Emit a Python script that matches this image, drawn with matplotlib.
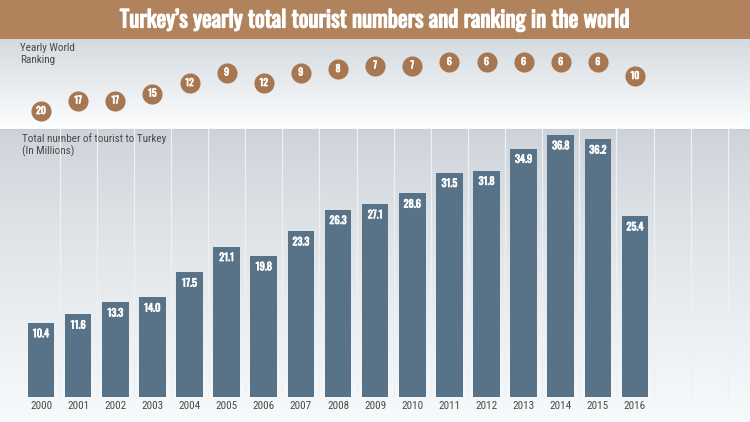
import numpy as np
import matplotlib
matplotlib.use("Agg")
from matplotlib import pyplot as plt
from matplotlib import font_manager as fm
from matplotlib import patheffects as pe

installed = set(f.name for f in fm.fontManager.ttflist)


def pick(*names):
    for n in names:
        if n in installed:
            return n
    return 'DejaVu Sans'


title_font = pick('Oswald', 'Roboto Condensed', 'Archivo Narrow', 'PT Sans Narrow')
body_font = pick('Roboto Condensed', 'Archivo Narrow', 'PT Sans Narrow', 'Open Sans Condensed')
num_font = pick('Oswald', 'Roboto Condensed', 'Archivo Narrow')
plt.rcParams['font.family'] = [body_font, 'DejaVu Sans']

years = [2000, 2001, 2002, 2003, 2004, 2005, 2006, 2007, 2008,
         2009, 2010, 2011, 2012, 2013, 2014, 2015, 2016]
tourists = [10.4, 11.6, 13.3, 14.0, 17.5, 21.1, 19.8, 23.3, 26.3,
            27.1, 28.6, 31.5, 31.8, 34.9, 36.8, 36.2, 25.4]
ranking = [20, 17, 17, 15, 12, 9, 12, 9, 8, 7, 7, 6, 6, 6, 6, 6, 10]

title = "Turkey\u2019s yearly total tourist numbers and ranking in the world"

brown = '#b0835c'
circle_col = '#a77752'
bar_col = '#587287'
text_gray = '#4a4a4a'

W, H = 750, 422
fig = plt.figure(figsize=(7.5, 4.22), dpi=100)

# background gradients
bg = fig.add_axes([0, 0, 1, 1])
bg.set_xlim(0, W)
bg.set_ylim(H, 0)
bg.axis('off')
g1 = np.linspace(0, 1, 100).reshape(-1, 1)
top_c = np.array([0.83, 0.855, 0.875])
bot_c = np.array([0.99, 0.995, 1.0])
grad = top_c + (bot_c - top_c) * g1[:, :, None]
bg.imshow(grad, extent=[0, W, 129, 38], aspect='auto')
top_c2 = np.array([0.80, 0.825, 0.85])
bot_c2 = np.array([0.97, 0.98, 0.985])
grad2 = top_c2 + (bot_c2 - top_c2) * np.linspace(0, 1, 100).reshape(-1, 1)[:, :, None] ** 0.8
bg.imshow(grad2, extent=[0, W, 422, 129], aspect='auto')
bg.axhline(129, color='#c8ced4', lw=0.8)
bg.add_patch(plt.Rectangle((0, 0), W, 39, color=brown, lw=0))
bg.text(W / 2, 20, title, color='white', fontsize=16.5, fontweight='bold',
        family=title_font, ha='center', va='center',
        path_effects=[pe.withStroke(linewidth=0.9, foreground='white')])
bg.text(20, 43, "Yearly World\nRanking", color=text_gray, fontsize=8,
        ha='left', va='top', linespacing=1.2)
bg.text(22, 133, "Total number of tourist to Turkey\n(In Millions)", color=text_gray,
        fontsize=8, ha='left', va='top', linespacing=1.2)

x0 = 2000 - 41 / 37.125
x1 = 2000 + (W - 41) / 37.125

bold = [pe.withStroke(linewidth=0.5, foreground='white')]

# bars
ax = fig.add_axes([0, 25 / H, 1, 268 / H])
ax.set_xlim(x0, x1)
ax.set_ylim(0, 268 / 7.12)
ax.axis('off')
for b in np.arange(2000.5, 2019, 1):
    ax.axvline(b, color='#eef1f4', lw=0.9, zorder=1)
ax.bar(years, tourists, width=0.72, color=bar_col, zorder=2)
for yr, v in zip(years, tourists):
    ax.annotate(f"{v:.1f}", (yr, v), xytext=(0, -4.5), textcoords='offset points',
                ha='center', va='top', color='white', fontsize=7.5,
                family=num_font, fontweight='bold', zorder=3, path_effects=bold)
    ax.annotate(str(yr), (yr, 0), xytext=(0, -3), textcoords='offset points',
                ha='center', va='top', color=text_gray, fontsize=8,
                annotation_clip=False)

# ranking
ax2 = fig.add_axes([0, (H - 128) / H, 1, 88 / H])
ax2.set_xlim(x0, x1)
r_top = 6 + (40 - 62) / 3.5
r_bot = 6 + (128 - 62) / 3.5
ax2.set_ylim(r_bot, r_top)
ax2.axis('off')
ax2.scatter(years, ranking, s=210, color=circle_col, zorder=2, lw=0)
for yr, r in zip(years, ranking):
    ax2.text(yr, r, str(r), color='white', fontsize=7, fontweight='bold',
             family=num_font, ha='center', va='center', zorder=3, path_effects=bold)

fig.savefig("out.png", dpi=100)
